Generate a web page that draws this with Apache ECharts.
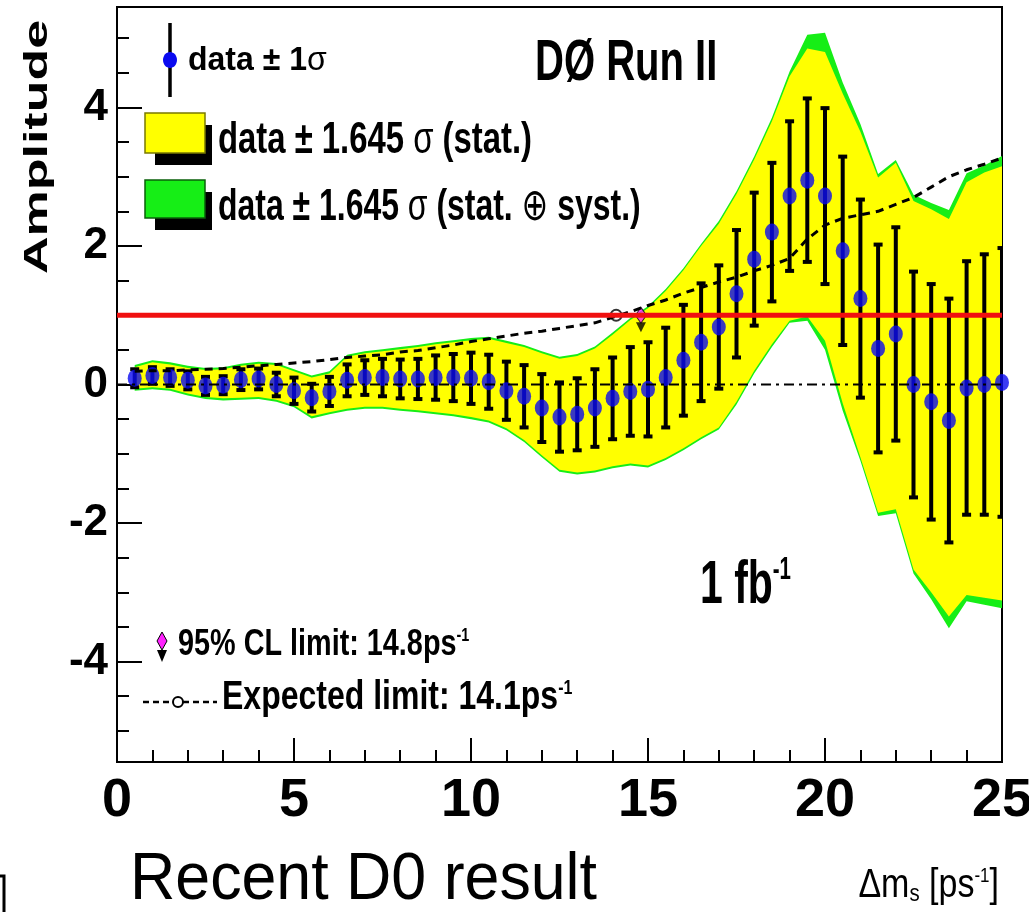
<!DOCTYPE html>
<html>
<head>
<meta charset="utf-8">
<script src="https://cdn.jsdelivr.net/npm/echarts@6/dist/echarts.min.js"></script>
<style>
  html, body { margin: 0; padding: 0; background: #fff; }
  #chart { width: 1029px; height: 912px; }
</style>
</head>
<body>
<div id="chart"></div>
<script>
// Δm_s scan points (ps^-1)
const ampX = [0.5, 1, 1.5, 2, 2.5, 3, 3.5, 4, 4.5, 5, 5.5, 6, 6.5, 7, 7.5, 8, 8.5, 9, 9.5, 10,
  10.5, 11, 11.5, 12, 12.5, 13, 13.5, 14, 14.5, 15, 15.5, 16, 16.5, 17, 17.5, 18, 18.5, 19, 19.5, 20,
  20.5, 21, 21.5, 22, 22.5, 23, 23.5, 24, 24.5, 25];
// fitted amplitude
const amp = [0.09, 0.13, 0.10, 0.06, -0.02, -0.01, 0.07, 0.08, 0.0, -0.09, -0.19, -0.10, 0.06, 0.10, 0.10, 0.08, 0.08, 0.10, 0.10, 0.09,
  0.04, -0.09, -0.17, -0.34, -0.47, -0.43, -0.34, -0.20, -0.10, -0.07, 0.10, 0.35, 0.61, 0.83, 1.31, 1.81, 2.20, 2.72, 2.95, 2.72,
  1.93, 1.24, 0.52, 0.73, 0.0, -0.25, -0.52, -0.05, 0.0, 0.03];
// 1 sigma stat error
const ampErr = [0.13, 0.12, 0.12, 0.13, 0.13, 0.13, 0.15, 0.15, 0.17, 0.19, 0.20, 0.21, 0.23, 0.25, 0.27, 0.28, 0.29, 0.32, 0.34, 0.37,
  0.39, 0.42, 0.45, 0.49, 0.50, 0.52, 0.56, 0.59, 0.64, 0.68, 0.72, 0.80, 0.85, 0.89, 0.92, 0.96, 1.00, 1.08, 1.18, 1.27,
  1.36, 1.43, 1.50, 1.54, 1.63, 1.70, 1.76, 1.83, 1.88, 1.94];
// band edges (same x as ampX)
const yelHi = [0.25, 0.32, 0.29, 0.24, 0.21, 0.22, 0.27, 0.30, 0.28, 0.19, 0.10, 0.16, 0.40, 0.45, 0.48, 0.51, 0.54, 0.58, 0.61, 0.64,
  0.66, 0.60, 0.54, 0.45, 0.37, 0.41, 0.52, 0.72, 0.93, 1.10, 1.35, 1.65, 2.00, 2.32, 2.75, 3.25, 3.80, 4.45, 4.85, 4.80,
  4.20, 3.65, 2.99, 3.20, 2.65, 2.53, 2.39, 2.92, 3.06, 3.15];
const yelLo = [-0.06, -0.04, -0.06, -0.13, -0.18, -0.20, -0.19, -0.18, -0.22, -0.30, -0.46, -0.40, -0.35, -0.32, -0.32, -0.35, -0.37, -0.40, -0.43, -0.47,
  -0.52, -0.63, -0.80, -1.02, -1.23, -1.27, -1.24, -1.18, -1.14, -1.17, -1.06, -0.92, -0.76, -0.62, -0.25, 0.20, 0.58, 0.92, 0.98, 0.63,
  -0.27, -1.05, -1.85, -1.80, -2.67, -3.00, -3.35, -3.04, -3.08, -3.12];
const grnHi = [0.28, 0.35, 0.32, 0.27, 0.24, 0.25, 0.30, 0.33, 0.31, 0.22, 0.13, 0.19, 0.43, 0.48, 0.51, 0.54, 0.57, 0.61, 0.64, 0.67,
  0.69, 0.63, 0.57, 0.48, 0.40, 0.44, 0.55, 0.75, 0.96, 1.13, 1.38, 1.68, 2.03, 2.36, 2.79, 3.29, 3.85, 4.52, 5.05, 5.08,
  4.36, 3.76, 3.04, 3.24, 2.74, 2.62, 2.52, 3.05, 3.16, 3.30];
const grnLo = [-0.09, -0.07, -0.09, -0.16, -0.21, -0.23, -0.22, -0.21, -0.25, -0.33, -0.49, -0.43, -0.38, -0.35, -0.35, -0.38, -0.40, -0.43, -0.46, -0.50,
  -0.55, -0.66, -0.83, -1.05, -1.26, -1.30, -1.27, -1.21, -1.17, -1.20, -1.09, -0.95, -0.79, -0.65, -0.29, 0.16, 0.54, 0.89, 0.92, 0.50,
  -0.38, -1.10, -1.90, -1.86, -2.73, -3.10, -3.52, -3.13, -3.18, -3.23];
// expected sensitivity (1.645 sigma) curve
const expSens = [0.19, 0.20, 0.20, 0.21, 0.22, 0.23, 0.25, 0.27, 0.29, 0.31, 0.33, 0.36, 0.39, 0.41, 0.43, 0.47, 0.49, 0.53, 0.57, 0.62,
  0.66, 0.70, 0.74, 0.77, 0.81, 0.85, 0.89, 0.97, 1.05, 1.14, 1.22, 1.32, 1.40, 1.48, 1.55, 1.64, 1.72, 1.82, 2.10, 2.30,
  2.40, 2.45, 2.50, 2.60, 2.70, 2.85, 3.00, 3.10, 3.18, 3.27];

const xRange = [0, 25];
const yRange = [-5.45, 5.45];
const yMajor = [-4, -2, 0, 2, 4];
const yMinor = [-5, -4.5, -3.5, -3, -2.5, -1.5, -1, -0.5, 0.5, 1, 1.5, 2.5, 3, 3.5, 4.5, 5];
const unitLevel = 1;
const zeroLevel = 0;
const clLimit = 14.8;
const expLimit = 14.1;

const sans = "'Liberation Sans', Arial, 'DejaVu Sans', sans-serif";

function bandRender(hi, lo, color) {
  return function (params, api) {
    if (params.dataIndex !== 0) return;
    const pts = [];
    for (let i = 0; i < ampX.length; i++) pts.push(api.coord([ampX[i], hi[i]]));
    for (let i = ampX.length - 1; i >= 0; i--) pts.push(api.coord([ampX[i], lo[i]]));
    return { type: 'polygon', shape: { points: pts }, style: { fill: color } };
  };
}

function errRender(params, api) {
  const x = api.value(0);
  const a = api.coord([x, api.value(2)]);
  const b = api.coord([x, api.value(1)]);
  const st = { stroke: '#000', lineWidth: 4 };
  return {
    type: 'group',
    children: [
      { type: 'line', shape: { x1: a[0], y1: a[1], x2: b[0], y2: b[1] }, style: st },
      { type: 'line', shape: { x1: a[0] - 4.5, y1: a[1], x2: a[0] + 4.5, y2: a[1] }, style: st },
      { type: 'line', shape: { x1: b[0] - 4.5, y1: b[1], x2: b[0] + 4.5, y2: b[1] }, style: st }
    ]
  };
}

function txt(x, y, text, size, weight, sx, extra) {
  return Object.assign({
    type: 'text', x: x, y: y, scaleX: sx, z: 100,
    style: {
      text: text, fontSize: size, fontWeight: weight, fontFamily: sans, fill: '#000',
      align: 'left', verticalAlign: 'middle',
      rich: {
        g: { fontSize: size, fontWeight: 'normal', fontFamily: sans },
        sup: { fontSize: Math.round(size * 0.5), fontWeight: weight, fontFamily: sans, verticalAlign: 'top' },
        sub: { fontSize: Math.round(size * 0.6), fontWeight: weight, fontFamily: sans, verticalAlign: 'bottom' }
      }
    }
  }, extra || {});
}

const chart = echarts.init(document.getElementById('chart'));
const option = {
  animation: false,
  backgroundColor: '#fff',
  grid: {
    left: 117, top: 7, width: 885, height: 755, containLabel: false, outerBoundsMode: 'none',
    show: true, borderColor: '#000', borderWidth: 2
  },
  xAxis: {
    type: 'value', min: xRange[0], max: xRange[1], interval: 5,
    axisLine: { show: true, onZero: false, lineStyle: { color: '#000', width: 2 } },
    axisTick: { inside: true, length: 24, lineStyle: { color: '#000', width: 2 } },
    minorTick: { show: true, splitNumber: 5, length: 12, lineStyle: { color: '#000', width: 2 } },
    axisLabel: { fontSize: 54, fontWeight: 'bold', fontFamily: sans, color: '#000', margin: 12 },
    splitLine: { show: false }
  },
  yAxis: [{
    type: 'value', min: yRange[0], max: yRange[1],
    axisLine: { show: true, onZero: false, lineStyle: { color: '#000', width: 2 } },
    axisTick: { inside: true, length: 25, customValues: yMajor, lineStyle: { color: '#000', width: 2 } },
    axisLabel: { customValues: yMajor, fontSize: 44, fontWeight: 'bold', fontFamily: sans, color: '#000', margin: 9 },
    splitLine: { show: false }
  }, {
    type: 'value', min: yRange[0], max: yRange[1], position: 'left',
    axisLine: { show: false },
    axisTick: { show: true, inside: true, length: 12, customValues: yMinor, lineStyle: { color: '#000', width: 2 } },
    axisLabel: { show: false },
    splitLine: { show: false }
  }],
  series: [
    { type: 'custom', name: 'stat+syst', data: [[0, 0]], renderItem: bandRender(grnHi, grnLo, '#16ee16'), clip: true, silent: true },
    { type: 'custom', name: 'stat', data: [[0, 0]], renderItem: bandRender(yelHi, yelLo, '#ffff00'), clip: true, silent: true },
    {
      type: 'line', name: 'zero', data: [[xRange[0], zeroLevel], [xRange[1], zeroLevel]],
      symbol: 'none', lineStyle: { color: '#000', width: 2, type: [10, 5, 3, 5] }
    },
    {
      type: 'line', name: 'expected', data: ampX.map((x, i) => [x, expSens[i]]),
      symbol: 'none', lineStyle: { color: '#000', width: 3, type: [8, 6] }
    },
    {
      type: 'custom', name: 'err', data: ampX.map((x, i) => [x, amp[i] - ampErr[i], amp[i] + ampErr[i]]),
      encode: { x: 0, y: [1, 2] }, renderItem: errRender, clip: true
    },
    {
      type: 'line', name: 'unit', data: [[xRange[0], unitLevel], [xRange[1], unitLevel]],
      symbol: 'none', lineStyle: { color: '#f01010', width: 5 }
    },
    {
      type: 'scatter', name: 'data', data: ampX.map((x, i) => [x, amp[i]]),
      symbol: 'circle', symbolSize: [14, 17], itemStyle: { color: '#0a0af0' }
    },
    {
      type: 'scatter', name: 'exp limit', data: [[expLimit, unitLevel]],
      symbol: 'circle', symbolSize: 11, itemStyle: { color: '#fff', borderColor: '#000', borderWidth: 2 }
    },
    {
      type: 'scatter', name: 'cl arrow', data: [[clLimit, unitLevel]],
      symbol: 'triangle', symbolRotate: 180, symbolSize: [10, 10], symbolOffset: [0, 12], itemStyle: { color: '#000' }
    },
    {
      type: 'scatter', name: 'cl limit', data: [[clLimit, unitLevel]],
      symbol: 'diamond', symbolSize: [11, 16], itemStyle: { color: '#ff22ff', borderColor: '#000', borderWidth: 1 }
    }
  ],
  graphic: [
    // legend: data ± 1σ
    { type: 'line', shape: { x1: 170, y1: 23, x2: 170, y2: 97 }, style: { stroke: '#000', lineWidth: 3.5 }, z: 100 },
    { type: 'ellipse', shape: { cx: 170, cy: 60, rx: 7, ry: 8 }, style: { fill: '#0a0af0' }, z: 101 },
    txt(188, 61, 'data ± 1{g|σ}', 33, 'bold', 0.97),
    // yellow box
    { type: 'rect', shape: { x: 155, y: 125, width: 57, height: 40 }, style: { fill: '#000' }, z: 100 },
    { type: 'rect', shape: { x: 145, y: 113, width: 60, height: 40 }, style: { fill: '#ffff00', stroke: '#7a7a00', lineWidth: 1.5 }, z: 101 },
    txt(218, 141, 'data ± 1.645 {g|σ} (stat.)', 45, 'bold', 0.73),
    // green box
    { type: 'rect', shape: { x: 155, y: 192, width: 57, height: 38 }, style: { fill: '#000' }, z: 100 },
    { type: 'rect', shape: { x: 145, y: 180, width: 60, height: 38 }, style: { fill: '#16ee16', stroke: '#0a600a', lineWidth: 1.5 }, z: 101 },
    txt(218, 208, 'data ± 1.645 {g|σ} (stat. {g|⊕} syst.)', 45, 'bold', 0.71),
    // labels
    txt(535, 64, 'DØ Run II', 58, 'bold', 0.69),
    txt(700, 586, '1 fb{sup|-1}', 62, 'bold', 0.66),
    // 95% CL legend
    { type: 'polygon', shape: { points: [[162, 650], [167, 650], [162, 662], [157, 650]] }, style: { fill: '#000' }, z: 100 },
    { type: 'polygon', shape: { points: [[162, 632], [167, 641], [162, 650], [157, 641]] }, style: { fill: '#ff22ff', stroke: '#000', lineWidth: 1 }, z: 101 },
    txt(178, 645, '95% CL limit: 14.8ps{sup|-1}', 36, 'bold', 0.8),
    // expected legend
    { type: 'line', shape: { x1: 143, y1: 702, x2: 217, y2: 702 }, style: { stroke: '#000', lineWidth: 2.5, lineDash: [6, 4] }, z: 100 },
    { type: 'circle', shape: { cx: 178, cy: 702, r: 5 }, style: { fill: '#fff', stroke: '#000', lineWidth: 2 }, z: 101 },
    txt(222, 698, 'Expected limit: 14.1ps{sup|-1}', 40, 'bold', 0.8),
    // axis titles
    txt(38, 147, 'Amplitude', 52, 'bold', 1, { rotation: Math.PI / 2, scaleY: 0.64, style: { text: 'Amplitude', fontSize: 52, fontWeight: 'bold', fontFamily: sans, fill: '#000', align: 'center', verticalAlign: 'middle' } }),
    txt(999, 886, 'Δm{sub|s} [ps{sup|-1}]', 40, 'normal', 0.85, {}),
    txt(130, 881, 'Recent D0 result', 66, 'normal', 0.95),
    { type: 'polyline', shape: { points: [[0, 876], [4, 876], [4, 912]] }, style: { stroke: '#000', lineWidth: 3, fill: null }, z: 100 }
  ]
};
option.graphic[option.graphic.length - 3].style.align = 'right';
chart.setOption(option);
</script>
</body>
</html>
